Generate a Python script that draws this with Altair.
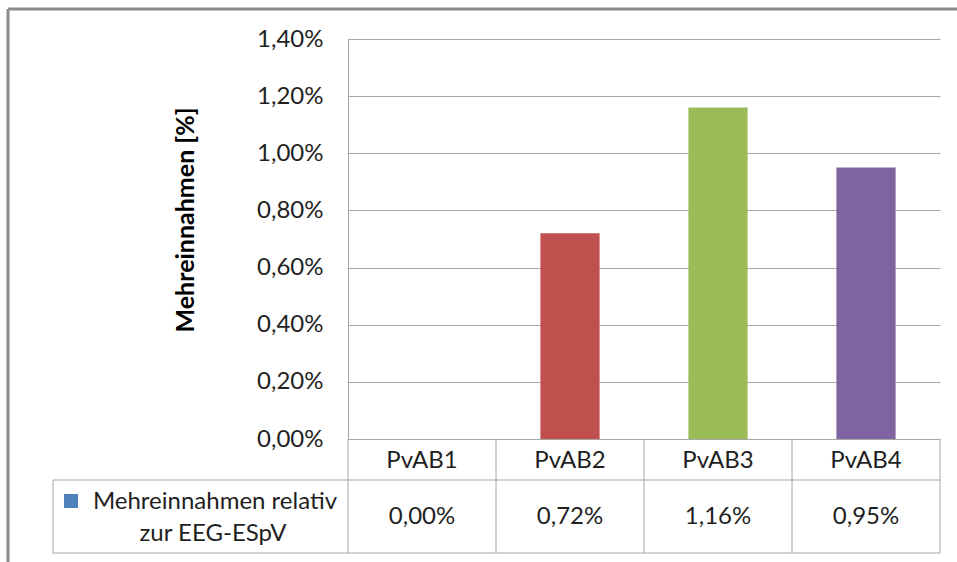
import altair as alt
import pandas as pd

# Chart data
categories = ["PvAB1", "PvAB2", "PvAB3", "PvAB4"]
values = [0.00, 0.72, 1.16, 0.95]
colors = ["#4F81BD", "#C0504D", "#9BBB59", "#8064A2"]
y_ticks = [0.0, 0.2, 0.4, 0.6, 0.8, 1.0, 1.2, 1.4]
y_title = "Mehreinnahmen [%]"
series_name = ["Mehreinnahmen relativ", "zur EEG-ESpV"]
series_color = "#4F81BD"

df = pd.DataFrame({"cat": categories, "val": values, "color": colors})
one = pd.DataFrame({"k": [0]})

FONT = "Lato"
TXT = "#1f1f1f"
GRID = "#a6a6a6"
FRAME = "#8c8c8c"
FS = 24

W, H = 592, 400          # plot area
T_TOP, T_MID, T_BOT = H, 441, 514   # data table row lines
T_LEFT = -295            # left edge of the legend cell

x_band = alt.X("cat:N", sort=categories,
               scale=alt.Scale(paddingInner=0, paddingOuter=0), axis=None)

label_expr = "replace(format(datum.value, '.2f'), '.', ',') + '%'"

bars = alt.Chart(df).mark_bar(width=alt.RelativeBandSize(0.4)).encode(
    x=x_band,
    y=alt.Y("val:Q", scale=alt.Scale(domain=[0, 1.4], nice=False),
            axis=alt.Axis(values=y_ticks, labelExpr=label_expr, title=None,
                          grid=True, gridColor=GRID, ticks=False,
                          domain=True, domainColor=GRID, labelFont=FONT,
                          labelFontSize=FS, labelColor=TXT, labelPadding=25)),
    color=alt.Color("color:N", scale=None),
)

# Data table: category row and value row
head = alt.Chart(df).mark_text(font=FONT, fontSize=FS, color=TXT).encode(
    x=x_band, y=alt.value(422), text="cat:N")

vals = alt.Chart(df).transform_calculate(
    lab="replace(format(datum.val, '.2f'), '.', ',') + '%'"
).mark_text(font=FONT, fontSize=FS, color=TXT).encode(
    x=x_band, y=alt.value(478), text="lab:N")

col_lines = alt.Chart(df).mark_rule(color=GRID).encode(
    x=alt.X("cat:N", sort=categories, bandPosition=0,
            scale=alt.Scale(paddingInner=0, paddingOuter=0), axis=None),
    y=alt.value(T_TOP), y2=alt.value(T_BOT))

def rule(**enc):
    return alt.Chart(one).mark_rule(color=GRID).encode(**enc)

table_lines = [
    rule(x=alt.value(W), y=alt.value(T_TOP), y2=alt.value(T_BOT)),
    rule(x=alt.value(T_LEFT), y=alt.value(T_MID), y2=alt.value(T_BOT)),
    rule(y=alt.value(T_MID), x=alt.value(T_LEFT), x2=alt.value(W)),
    rule(y=alt.value(T_BOT), x=alt.value(T_LEFT), x2=alt.value(W)),
]

legend_key = alt.Chart(one).mark_square(size=196, color=series_color, opacity=1).encode(
    x=alt.value(-277), y=alt.value(462))
legend_l1 = alt.Chart(one).mark_text(text=series_name[0], font=FONT, fontSize=FS,
                                     color=TXT, align="center").encode(
    x=alt.value(-133), y=alt.value(463))
legend_l2 = alt.Chart(one).mark_text(text=series_name[1], font=FONT, fontSize=FS,
                                     color=TXT, align="center").encode(
    x=alt.value(-135), y=alt.value(495))

title = alt.Chart(one).mark_text(text=y_title, font=FONT, fontSize=25,
                                 fontWeight="bold", color="#000", angle=270).encode(
    x=alt.value(-162), y=alt.value(181))

# Outer chart frame (top and left edges)
frame = [
    alt.Chart(one).mark_rule(color=FRAME, strokeWidth=3).encode(
        y=alt.value(-30), x=alt.value(-340), x2=alt.value(640)),
    alt.Chart(one).mark_rule(color=FRAME, strokeWidth=3).encode(
        x=alt.value(-340), y=alt.value(-30), y2=alt.value(540)),
]

chart = alt.layer(
    bars, col_lines, *table_lines, head, vals,
    legend_key, legend_l1, legend_l2, title, *frame
).properties(
    width=W, height=H,
    autosize=alt.AutoSizeParams(type="none"),
    padding={"left": 348, "top": 39, "right": 17, "bottom": 123},
    background="white",
).configure_view(stroke=None)

chart.save("out.html", embed_options={"renderer": "svg", "actions": False})
